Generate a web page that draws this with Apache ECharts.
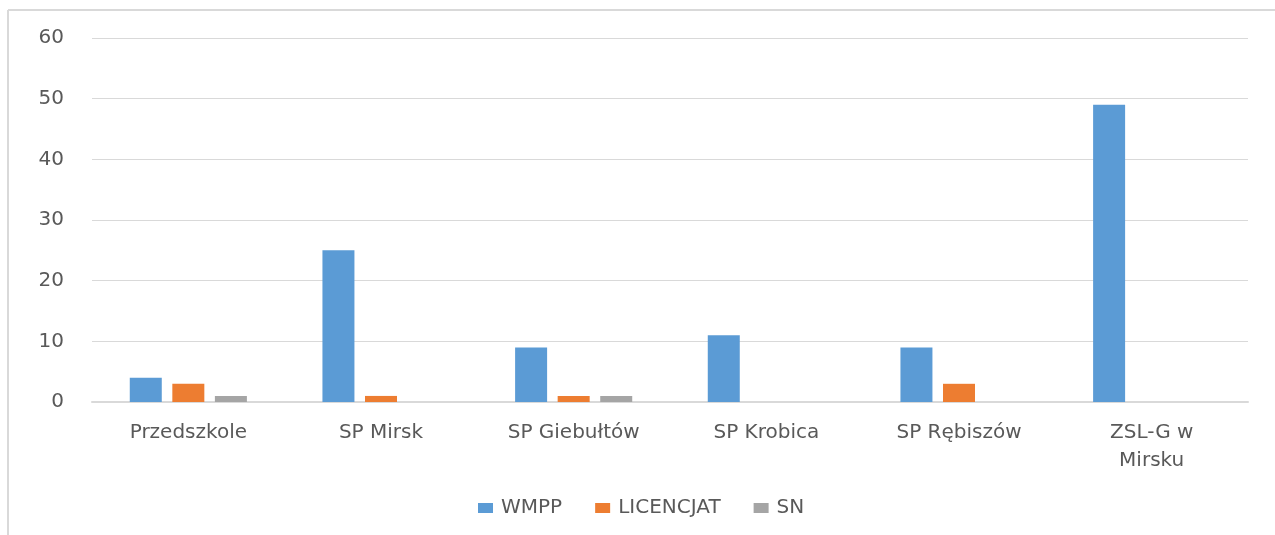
<!DOCTYPE html>
<html>
<head>
<meta charset="utf-8">
<script src="https://cdn.jsdelivr.net/npm/echarts@6/dist/echarts.min.js"></script>
<style>
html,body{margin:0;padding:0;background:#fff;}
#chart{width:1275px;height:535px;}
</style>
</head>
<body>
<div id="chart"></div>
<script>
var categories = ['Przedszkole', 'SP Mirsk', 'SP Giebułtów', 'SP Krobica', 'SP Rębiszów', 'ZSL-G w\nMirsku'];
var seriesNames = ['WMPP', 'LICENCJAT', 'SN'];
var wmpp = [4, 25, 9, 11, 9, 49];
var licencjat = [3, 1, 1, 0, 3, 0];
var sn = [1, 0, 1, 0, 0, 0];
var yTicks = [0, 10, 20, 30, 40, 50, 60];

var colors = ['#5B9BD5', '#ED7D31', '#A5A5A5'];
var font = '"DejaVu Sans", sans-serif';
var chart = echarts.init(document.getElementById('chart'), null, {renderer: 'canvas'});
var dataSets = [wmpp, licencjat, sn];
chart.setOption({
  animation: false,
  backgroundColor: '#fff',
  color: colors,
  graphic: [
    {type: 'line', shape: {x1: 8, y1: 10, x2: 1275, y2: 10}, style: {stroke: '#d9d9d9', lineWidth: 2}, silent: true},
    {type: 'line', shape: {x1: 8, y1: 10, x2: 8, y2: 535}, style: {stroke: '#d9d9d9', lineWidth: 2}, silent: true}
  ],
  grid: {left: 92, right: 27, top: 38, bottom: 133, containLabel: false},
  legend: {
    data: seriesNames,
    left: 478,
    top: 498,
    padding: 0,
    itemWidth: 15,
    itemHeight: 10,
    itemGap: 33,
    icon: 'rect',
    textStyle: {color: '#595959', fontSize: 20, fontFamily: font, padding: [0, 0, 0, 3]}
  },
  xAxis: {
    type: 'category',
    data: categories,
    axisLine: {lineStyle: {color: '#d9d9d9', width: 2}},
    axisTick: {show: false},
    axisLabel: {color: '#595959', fontSize: 20, fontFamily: font, margin: 17, lineHeight: 28, interval: 0}
  },
  yAxis: {
    type: 'value',
    min: yTicks[0],
    max: yTicks[yTicks.length - 1],
    interval: 10,
    axisLine: {show: false},
    axisTick: {show: false},
    splitLine: {lineStyle: {color: '#d9d9d9', width: 1}},
    axisLabel: {color: '#595959', fontSize: 20, fontFamily: font, margin: 28}
  },
  series: seriesNames.map(function (n, i) {
    return {name: n, type: 'bar', data: dataSets[i], barWidth: 32, barGap: '33%'};
  })
});
</script>
</body>
</html>
